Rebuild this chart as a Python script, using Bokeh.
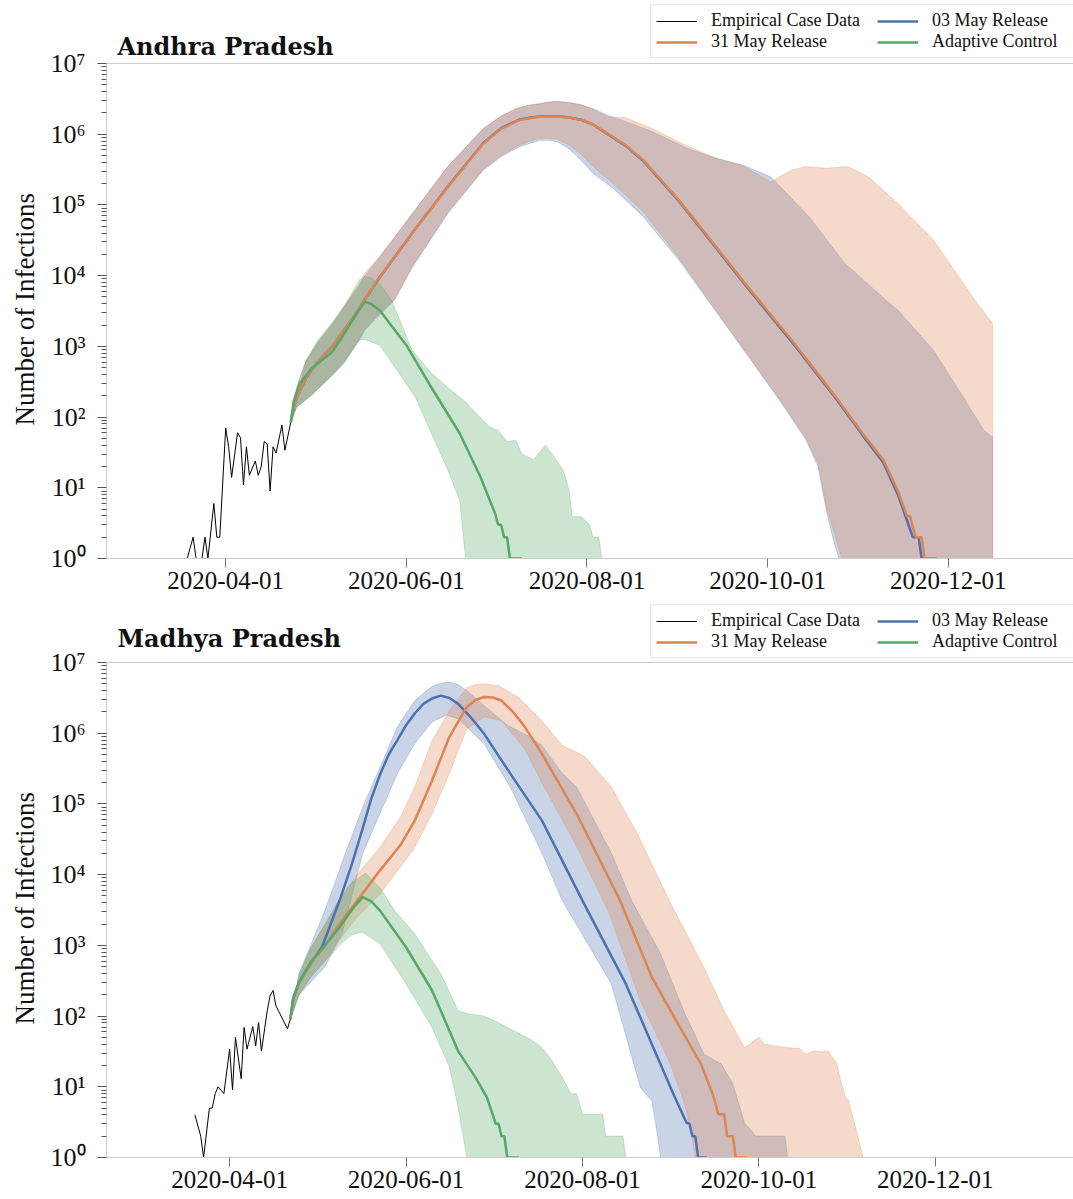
import pandas as pd
from bokeh.plotting import figure
from bokeh.models import (Range1d, FixedTicker, DatetimeTickFormatter, CustomJSTickFormatter,
                          Legend, LegendItem, Span, Label, Title)
from bokeh.layouts import column
from bokeh.embed import file_html
from bokeh.resources import INLINE

# ---------------------------------------------------------------- data
x_tick_dates = ["2020-04-01", "2020-06-01", "2020-08-01", "2020-10-01", "2020-12-01"]
y_tick_values = [1, 10, 100, 1000, 10000, 100000, 1000000, 10000000]
legend_labels = ["Empirical Case Data", "31 May Release", "03 May Release", "Adaptive Control"]

# ---- Andhra Pradesh
ap_case_dates = ["2020-03-19", "2020-03-21", "2020-03-22", "2020-03-24", "2020-03-25", "2020-03-26",
                 "2020-03-28", "2020-03-29", "2020-03-30", "2020-04-01", "2020-04-02", "2020-04-03",
                 "2020-04-05", "2020-04-06", "2020-04-07", "2020-04-08", "2020-04-09", "2020-04-11",
                 "2020-04-12", "2020-04-13", "2020-04-14", "2020-04-15", "2020-04-16", "2020-04-17",
                 "2020-04-18", "2020-04-20", "2020-04-21", "2020-04-23"]
ap_case_vals = [1, 2, 1, 1, 2, 1, 6, 2, 2, 70, 38, 14, 60, 51, 11, 38, 15, 24, 15, 20, 45, 42, 9, 38,
                31, 77, 34, 85]

ap_may31_dates = ["2020-04-23", "2020-04-24", "2020-04-25", "2020-04-28", "2020-05-02", "2020-05-07",
                  "2020-05-11", "2020-05-15", "2020-05-18", "2020-05-23", "2020-06-03", "2020-06-15",
                  "2020-06-27", "2020-07-03", "2020-07-09", "2020-07-13", "2020-07-16", "2020-07-19",
                  "2020-07-22", "2020-07-26", "2020-07-30", "2020-08-03", "2020-08-08", "2020-08-14",
                  "2020-08-20", "2020-09-01", "2020-09-12", "2020-09-23", "2020-09-28", "2020-10-10",
                  "2020-10-24", "2020-11-02", "2020-11-09", "2020-11-14", "2020-11-17", "2020-11-18",
                  "2020-11-20", "2020-11-22", "2020-11-23", "2020-11-27"]
ap_may31_vals = [85, 140, 190, 350, 600, 1000, 1700, 2900, 4600, 9600, 40000, 180000, 740000, 1200000,
                 1580000, 1700000, 1760000, 1785000, 1780000, 1720000, 1600000, 1380000, 1020000, 700000,
                 430000, 117000, 31000, 8100, 4500, 1100, 193, 59, 25, 9, 4, 4, 2, 2, 1, 1]

ap_may03_dates = ["2020-04-23", "2020-04-24", "2020-04-25", "2020-04-28", "2020-05-02", "2020-05-07",
                  "2020-05-11", "2020-05-15", "2020-05-18", "2020-05-23", "2020-06-03", "2020-06-15",
                  "2020-06-27", "2020-07-03", "2020-07-09", "2020-07-13", "2020-07-16", "2020-07-19",
                  "2020-07-22", "2020-07-26", "2020-07-30", "2020-08-03", "2020-08-08", "2020-08-14",
                  "2020-08-20", "2020-09-01", "2020-09-12", "2020-09-23", "2020-09-28", "2020-10-10",
                  "2020-10-24", "2020-11-02", "2020-11-09", "2020-11-14", "2020-11-17", "2020-11-19",
                  "2020-11-21", "2020-11-22", "2020-11-27"]
ap_may03_vals = [85, 140, 190, 350, 600, 1000, 1700, 2900, 4600, 9500, 40000, 182000, 750000, 1220000,
                 1600000, 1720000, 1780000, 1800000, 1790000, 1720000, 1600000, 1370000, 1000000, 690000,
                 420000, 114000, 30000, 7800, 4300, 1050, 185, 56, 23, 8, 3.5, 2, 2, 1, 1]

ap_adapt_dates = ["2020-04-23", "2020-04-24", "2020-04-26", "2020-04-30", "2020-05-07", "2020-05-11",
                  "2020-05-16", "2020-05-18", "2020-05-20", "2020-05-23", "2020-06-01", "2020-06-09",
                  "2020-06-19", "2020-06-26", "2020-07-01", "2020-07-02", "2020-07-03", "2020-07-04",
                  "2020-07-05", "2020-07-06", "2020-07-10"]
ap_adapt_vals = [85, 170, 298, 487, 835, 1520, 3250, 4256, 4000, 3250, 1040, 282, 59, 14.3, 4.3, 3, 3,
                 2, 2, 1, 1]

ap_adapt_hi_dates = ["2020-04-23", "2020-04-25", "2020-04-28", "2020-05-02", "2020-05-07", "2020-05-11",
                     "2020-05-16", "2020-05-18", "2020-05-20", "2020-05-23", "2020-05-27", "2020-06-03",
                     "2020-06-09", "2020-06-15", "2020-06-21", "2020-06-29", "2020-07-02", "2020-07-05",
                     "2020-07-08", "2020-07-10", "2020-07-14", "2020-07-16", "2020-07-18", "2020-07-21",
                     "2020-07-24", "2020-07-26", "2020-07-27", "2020-07-30", "2020-08-02", "2020-08-03",
                     "2020-08-05", "2020-08-06", "2020-08-23"]
ap_adapt_hi_vals = [85, 173, 600, 1200, 2200, 3600, 8600, 9800, 9300, 7700, 4500, 883, 436, 262, 164,
                    73, 65, 45, 47, 30, 25, 32, 40, 27, 17.7, 9.2, 3.9, 3.9, 3, 2, 2, 1, 1]
ap_adapt_lo_dates = ["2020-04-23", "2020-04-25", "2020-04-30", "2020-05-07", "2020-05-11", "2020-05-16",
                     "2020-05-18", "2020-05-23", "2020-05-28", "2020-06-04", "2020-06-09", "2020-06-15",
                     "2020-06-19", "2020-06-21", "2020-08-23"]
ap_adapt_lo_vals = [85, 139, 204, 391, 572, 1222, 1250, 1040, 513, 193, 65, 17.7, 6.7, 1, 1]

ap_may03_hi_dates = ["2020-04-23", "2020-04-25", "2020-04-28", "2020-05-02", "2020-05-07", "2020-05-11",
                     "2020-05-16", "2020-05-18", "2020-05-23", "2020-06-03", "2020-06-15", "2020-06-27",
                     "2020-07-03", "2020-07-08", "2020-07-12", "2020-07-16", "2020-07-19", "2020-07-22",
                     "2020-07-26", "2020-07-30", "2020-08-03", "2020-08-08", "2020-08-22", "2020-09-04",
                     "2020-09-12", "2020-09-23", "2020-10-02", "2020-10-15", "2020-10-27", "2020-11-10",
                     "2020-11-14", "2020-11-26", "2020-12-06", "2020-12-13", "2020-12-16"]
ap_may03_hi_vals = [85, 260, 600, 1100, 2000, 3600, 7000, 10000, 18400, 75000, 350000, 1200000, 1800000,
                    2300000, 2550000, 2700000, 2850000, 2900000, 2800000, 2600000, 2300000, 1860000,
                    1140000, 630000, 480000, 360000, 250000, 68000, 15000, 4500, 3250, 880, 193, 65, 52]
ap_may03_lo_dates = ["2020-04-23", "2020-04-25", "2020-04-30", "2020-05-07", "2020-05-11", "2020-05-16",
                     "2020-05-18", "2020-05-23", "2020-05-28", "2020-06-03", "2020-06-15", "2020-06-27",
                     "2020-07-03", "2020-07-09", "2020-07-16", "2020-07-19", "2020-07-22", "2020-07-26",
                     "2020-07-30", "2020-08-03", "2020-08-10", "2020-08-20", "2020-09-01", "2020-09-10",
                     "2020-09-23", "2020-10-05", "2020-10-14", "2020-10-18", "2020-10-21", "2020-10-23",
                     "2020-10-25", "2020-12-16"]
ap_may03_lo_vals = [85, 139, 204, 391, 600, 1200, 1700, 2800, 4500, 13000, 76000, 310000, 480000, 660000,
                    820000, 820000, 780000, 620000, 430000, 280000, 170000, 68000, 16600, 5000, 880, 173,
                    47, 20, 4.4, 2, 1, 1]

ap_may31_hi_dates = ["2020-04-23", "2020-04-25", "2020-04-28", "2020-05-02", "2020-05-07", "2020-05-11",
                     "2020-05-16", "2020-05-18", "2020-05-23", "2020-06-03", "2020-06-15", "2020-06-27",
                     "2020-07-03", "2020-07-08", "2020-07-12", "2020-07-16", "2020-07-19", "2020-07-22",
                     "2020-07-26", "2020-07-30", "2020-08-03", "2020-08-08", "2020-08-14", "2020-08-23",
                     "2020-09-02", "2020-09-14", "2020-09-23", "2020-10-02", "2020-10-05", "2020-10-09",
                     "2020-10-14", "2020-10-21", "2020-10-28", "2020-11-04", "2020-11-14", "2020-11-26",
                     "2020-12-10", "2020-12-16"]
ap_may31_hi_vals = [85, 270, 620, 1150, 2100, 3800, 7500, 11000, 18400, 75000, 350000, 1200000, 1800000,
                    2300000, 2550000, 2700000, 2850000, 2900000, 2800000, 2600000, 2250000, 1760000,
                    1720000, 1200000, 740000, 450000, 350000, 210000, 250000, 310000, 350000, 330000,
                    350000, 250000, 105000, 32000, 4500, 2100]
ap_may31_lo_dates = ["2020-04-23", "2020-04-25", "2020-04-30", "2020-05-07", "2020-05-11", "2020-05-16",
                     "2020-05-18", "2020-05-23", "2020-05-28", "2020-06-03", "2020-06-15", "2020-06-27",
                     "2020-07-03", "2020-07-09", "2020-07-16", "2020-07-19", "2020-07-22", "2020-07-26",
                     "2020-07-30", "2020-08-03", "2020-08-10", "2020-08-20", "2020-09-01", "2020-09-10",
                     "2020-09-23", "2020-10-05", "2020-10-14", "2020-10-18", "2020-10-21", "2020-10-24",
                     "2020-10-26", "2020-12-16"]
ap_may31_lo_vals = [85, 145, 210, 400, 620, 1250, 1750, 2900, 4600, 13500, 78000, 320000, 500000, 700000,
                    880000, 880000, 850000, 700000, 520000, 350000, 200000, 80000, 18000, 5200, 900, 180,
                    50, 22, 5, 2, 1, 1]

# ---- Madhya Pradesh
mp_case_dates = ["2020-03-20", "2020-03-22", "2020-03-23", "2020-03-25", "2020-03-26", "2020-03-27",
                 "2020-03-28", "2020-03-30", "2020-04-01", "2020-04-02", "2020-04-03", "2020-04-05",
                 "2020-04-06", "2020-04-07", "2020-04-09", "2020-04-10", "2020-04-11", "2020-04-12",
                 "2020-04-14", "2020-04-15", "2020-04-16", "2020-04-17", "2020-04-21", "2020-04-22"]
mp_case_vals = [4, 2, 1, 5, 5, 8, 10, 8, 34, 9, 50, 13, 69, 34, 71, 38, 81, 32, 119, 195, 230, 140, 66, 91]

mp_adapt_dates = ["2020-04-22", "2020-04-23", "2020-04-25", "2020-04-29", "2020-05-04", "2020-05-09",
                  "2020-05-14", "2020-05-17", "2020-05-20", "2020-05-23", "2020-06-01", "2020-06-10",
                  "2020-06-19", "2020-06-25", "2020-06-29", "2020-07-02", "2020-07-03", "2020-07-04",
                  "2020-07-05", "2020-07-06", "2020-07-10"]
mp_adapt_vals = [91, 180, 300, 577, 1000, 1800, 3500, 4800, 4200, 3100, 940, 230, 32, 13.6, 7, 3, 3, 2,
                 2, 1, 1]
mp_adapt_hi_dates = ["2020-04-22", "2020-04-25", "2020-04-29", "2020-05-04", "2020-05-09", "2020-05-13",
                     "2020-05-18", "2020-05-23", "2020-05-28", "2020-06-04", "2020-06-13", "2020-06-19",
                     "2020-06-23", "2020-06-28", "2020-07-03", "2020-07-06", "2020-07-14", "2020-07-18",
                     "2020-07-21", "2020-07-25", "2020-07-28", "2020-07-30", "2020-08-01", "2020-08-08",
                     "2020-08-09", "2020-08-15", "2020-08-16", "2020-08-22"]
mp_adapt_hi_vals = [91, 400, 900, 2000, 4500, 7500, 10500, 6500, 3100, 1460, 396, 119, 107, 100, 81, 69,
                    47, 36, 25, 13.6, 8, 8, 4.1, 4.1, 2, 2, 1, 1]
mp_adapt_lo_dates = ["2020-04-22", "2020-04-25", "2020-04-29", "2020-05-04", "2020-05-09", "2020-05-13",
                     "2020-05-17", "2020-05-23", "2020-06-01", "2020-06-10", "2020-06-16", "2020-06-19",
                     "2020-06-22", "2020-08-22"]
mp_adapt_lo_vals = [91, 200, 353, 600, 1000, 1400, 1535, 1050, 285, 69, 19, 5.1, 1, 1]

mp_may03_dates = ["2020-04-22", "2020-04-23", "2020-04-25", "2020-04-29", "2020-05-03", "2020-05-09",
                  "2020-05-13", "2020-05-17", "2020-05-20", "2020-05-23", "2020-05-26", "2020-05-29",
                  "2020-06-01", "2020-06-04", "2020-06-07", "2020-06-10", "2020-06-13", "2020-06-16",
                  "2020-06-19", "2020-06-23", "2020-06-28", "2020-07-07", "2020-07-18", "2020-08-01",
                  "2020-08-16", "2020-08-25", "2020-09-02", "2020-09-06", "2020-09-07", "2020-09-08",
                  "2020-09-09", "2020-09-10", "2020-09-13"]
mp_may03_vals = [91, 180, 300, 550, 960, 4300, 13000, 45000, 120000, 260000, 500000, 800000, 1300000,
                 1900000, 2600000, 3100000, 3400000, 3150000, 2600000, 1750000, 980000, 270000, 58000,
                 4300, 285, 40, 7, 3.1, 3, 2, 2, 1, 1]
mp_may03_hi_dates = ["2020-04-22", "2020-04-25", "2020-04-29", "2020-05-03", "2020-05-06", "2020-05-11",
                     "2020-05-17", "2020-05-23", "2020-05-29", "2020-06-04", "2020-06-10", "2020-06-13",
                     "2020-06-16", "2020-06-19", "2020-06-22", "2020-06-30", "2020-07-06", "2020-07-14",
                     "2020-07-18", "2020-07-25", "2020-07-30", "2020-08-11", "2020-08-18", "2020-08-28",
                     "2020-09-05", "2020-09-12", "2020-09-18", "2020-09-22", "2020-09-26", "2020-09-30",
                     "2020-10-10", "2020-10-11", "2020-10-20"]
mp_may03_hi_vals = [91, 400, 1000, 2500, 5300, 20000, 90000, 330000, 1230000, 2900000, 4600000, 5100000,
                    5300000, 4900000, 4000000, 2100000, 1300000, 880000, 670000, 270000, 174000, 20000,
                    4300, 760, 119, 29, 21, 11, 3.1, 2, 2, 1, 1]
mp_may03_lo_dates = ["2020-04-22", "2020-04-25", "2020-04-29", "2020-05-04", "2020-05-10", "2020-05-17",
                     "2020-05-23", "2020-05-29", "2020-06-04", "2020-06-10", "2020-06-15", "2020-06-19",
                     "2020-06-28", "2020-07-07", "2020-07-18", "2020-07-25", "2020-08-11", "2020-08-21",
                     "2020-08-25", "2020-08-27", "2020-08-28", "2020-10-20"]
mp_may03_lo_vals = [91, 200, 300, 500, 1500, 20000, 73000, 270000, 710000, 1450000, 1800000, 1600000,
                    710000, 174000, 20000, 4300, 285, 9.8, 6.3, 2, 1, 1]

mp_may31_dates = ["2020-04-22", "2020-04-23", "2020-04-25", "2020-04-29", "2020-05-04", "2020-05-09",
                  "2020-05-16", "2020-05-23", "2020-05-30", "2020-06-04", "2020-06-10", "2020-06-16",
                  "2020-06-22", "2020-06-25", "2020-06-28", "2020-07-01", "2020-07-04", "2020-07-08",
                  "2020-07-12", "2020-07-18", "2020-07-30", "2020-08-14", "2020-08-25", "2020-09-05",
                  "2020-09-11", "2020-09-15", "2020-09-17", "2020-09-19", "2020-09-20", "2020-09-22",
                  "2020-09-23", "2020-09-27"]
mp_may31_vals = [91, 175, 290, 560, 1000, 2000, 4800, 11500, 26000, 58000, 215000, 890000, 2350000,
                 2950000, 3250000, 3200000, 2900000, 2000000, 1240000, 510000, 72000, 4300, 353, 56, 21,
                 7.9, 4.1, 4.1, 2, 2, 1, 1]
mp_may31_hi_dates = ["2020-04-22", "2020-04-25", "2020-04-29", "2020-05-04", "2020-05-09", "2020-05-15",
                     "2020-05-23", "2020-05-30", "2020-06-04", "2020-06-10", "2020-06-16", "2020-06-22",
                     "2020-06-25", "2020-06-28", "2020-07-03", "2020-07-10", "2020-07-18", "2020-07-25",
                     "2020-07-30", "2020-08-02", "2020-08-11", "2020-08-20", "2020-08-31", "2020-09-12",
                     "2020-09-19", "2020-09-26", "2020-10-01", "2020-10-03", "2020-10-10", "2020-10-15",
                     "2020-10-17", "2020-10-20", "2020-10-23", "2020-10-25", "2020-10-28", "2020-10-29",
                     "2020-10-31", "2020-11-01", "2020-11-03", "2020-11-04", "2020-11-06", "2020-11-17"]
mp_may31_hi_vals = [91, 350, 900, 2000, 4500, 10000, 24500, 65000, 174000, 790000, 2100000, 4400000,
                    4850000, 5000000, 4700000, 3200000, 1500000, 670000, 540000, 460000, 174000, 38000,
                    4300, 490, 119, 36, 50, 40, 36, 35, 29, 32, 31, 32, 21, 13.6, 7, 6.5, 3.1, 2.2, 1, 1]
mp_may31_lo_dates = ["2020-04-22", "2020-04-25", "2020-04-29", "2020-05-04", "2020-05-09", "2020-05-15",
                     "2020-05-23", "2020-06-04", "2020-06-10", "2020-06-16", "2020-06-22", "2020-06-28",
                     "2020-07-04", "2020-07-12", "2020-07-18", "2020-07-30", "2020-08-10", "2020-08-21",
                     "2020-08-31", "2020-09-05", "2020-09-07", "2020-09-09", "2020-11-17"]
mp_may31_lo_vals = [91, 200, 350, 600, 1200, 2500, 5300, 24000, 73000, 270000, 1160000, 1700000, 1500000,
                    600000, 200000, 25000, 3000, 166, 23, 6.3, 3, 1, 1]

# ---------------------------------------------------------------- style / layout
BLUE, ORANGE, GREEN = "#4C72B0", "#DD8452", "#55A868"
SERIF = "Liberation Serif"
TEXT = "#111111"
DATA_H = 495     # pixels from 10^0 to 10^7
TOP_PAD = 63     # pixels of frame above 10^7 (title + legend band)
FRAME_H = DATA_H + TOP_PAD
Y_TOP = 10 ** (7 * FRAME_H / DATA_H)


def ms(dates):
    return [pd.Timestamp(d).value / 1e6 for d in dates]


def band(p, hi_d, hi_v, lo_d, lo_v, color):
    xs = ms(hi_d) + ms(lo_d)[::-1]
    ys = list(hi_v) + list(lo_v)[::-1]
    p.patch(xs, ys, fill_color=color, fill_alpha=0.3, line_color=color, line_alpha=0.25, line_width=1)


def make_panel(title, x_start, x_end, bottom, title_rise, legend_rise, d):
    p = figure(width=1073, height=FRAME_H + bottom, title=None,
               x_axis_type="datetime", y_axis_type="log",
               x_range=Range1d(ms([x_start])[0], ms([x_end])[0]), y_range=Range1d(1, Y_TOP),
               min_border_left=105, min_border_right=0, min_border_top=0, min_border_bottom=bottom,
               toolbar_location=None, tools="", output_backend="svg",
               background_fill_color="white", border_fill_color="white")
    p.outline_line_color = None
    p.grid.visible = False

    band(p, d["b_hi_d"], d["b_hi_v"], d["b_lo_d"], d["b_lo_v"], BLUE)
    band(p, d["o_hi_d"], d["o_hi_v"], d["o_lo_d"], d["o_lo_v"], ORANGE)
    band(p, d["g_hi_d"], d["g_hi_v"], d["g_lo_d"], d["g_lo_v"], GREEN)

    r_emp = p.line(ms(d["c_d"]), d["c_v"], line_color="black", line_width=1)
    r_blue = p.line(ms(d["b_d"]), d["b_v"], line_color=BLUE, line_width=2.5)
    r_orange = p.line(ms(d["o_d"]), d["o_v"], line_color=ORANGE, line_width=2.5)
    r_green = p.line(ms(d["g_d"]), d["g_v"], line_color=GREEN, line_width=2.5)

    # top spine at 10^7
    p.add_layout(Span(location=1e7, dimension="width", line_color="#cccccc", line_width=1))

    # panel title
    p.add_layout(Label(x=11, y=DATA_H + title_rise, x_units="screen", y_units="screen", text=title,
                       text_font="DejaVu Serif", text_font_style="bold", text_font_size="24px",
                       text_color=TEXT, text_baseline="alphabetic", text_align="left"))

    # x axis
    xa = p.xaxis[0]
    xa.ticker = FixedTicker(ticks=ms(x_tick_dates))
    xa.formatter = DatetimeTickFormatter(days="%Y-%m-%d", months="%Y-%m-%d", years="%Y-%m-%d")
    xa.axis_line_color = "#cccccc"
    xa.major_tick_line_color = "#777777"
    xa.major_tick_in = 0
    xa.major_tick_out = 9
    xa.minor_tick_line_color = None
    xa.major_label_standoff = 4
    xa.major_label_text_font = SERIF
    xa.major_label_text_font_size = "25px"
    xa.major_label_text_color = TEXT

    # y axis
    ya = p.yaxis[0]
    ya.bounds = (1, 1e7)
    ya.ticker = FixedTicker(ticks=y_tick_values,
                            minor_ticks=[k * 10 ** n for n in range(7) for k in range(2, 10)])
    ya.formatter = CustomJSTickFormatter(code="""
        const sup = ["\u2070", "\u00b9", "\u00b2", "\u00b3", "\u2074", "\u2075", "\u2076", "\u2077", "\u2078", "\u2079"];
        const e = Math.round(Math.log10(tick));
        return "10" + sup[e];
    """)
    ya.axis_line_color = "#cccccc"
    ya.major_tick_line_color = "#555555"
    ya.minor_tick_line_color = "#555555"
    ya.major_tick_in = 0
    ya.minor_tick_in = 0
    ya.major_tick_out = 9
    ya.minor_tick_out = 5
    ya.major_label_standoff = 12
    ya.major_label_text_font = SERIF
    ya.major_label_text_font_size = "26px"
    ya.major_label_text_color = TEXT

    # y axis title, centred on the 10^0..10^7 span (text starts at the bottom)
    p.add_layout(Title(text="Number of Infections", align="left", offset=133,
                       standoff=15, text_font=SERIF, text_font_size="27px",
                       text_font_style="normal", text_color=TEXT), "left")

    common = dict(orientation="vertical", margin=0, padding=5, spacing=0, label_standoff=14,
                  glyph_width=41, glyph_height=20, label_height=20,
                  label_text_font=SERIF, label_text_font_size="18px", label_text_color=TEXT)
    leg_a = Legend(items=[LegendItem(label=legend_labels[0], renderers=[r_emp]),
                          LegendItem(label=legend_labels[1], renderers=[r_orange])],
                   location=(544, DATA_H + legend_rise), label_width=1073 - 649 - 10 - 55,
                   border_line_color="#cccccc", border_line_width=1,
                   background_fill_color="white", background_fill_alpha=1, **common)
    leg_b = Legend(items=[LegendItem(label=legend_labels[2], renderers=[r_blue]),
                          LegendItem(label=legend_labels[3], renderers=[r_green])],
                   location=(881 - 105 - 5, DATA_H + legend_rise + 6), label_width=20,
                   border_line_color=None, background_fill_alpha=0, **common)
    p.add_layout(leg_a)
    p.add_layout(leg_b)
    return p


ap = dict(c_d=ap_case_dates, c_v=ap_case_vals,
          b_d=ap_may03_dates, b_v=ap_may03_vals, o_d=ap_may31_dates, o_v=ap_may31_vals,
          g_d=ap_adapt_dates, g_v=ap_adapt_vals,
          b_hi_d=ap_may03_hi_dates, b_hi_v=ap_may03_hi_vals, b_lo_d=ap_may03_lo_dates, b_lo_v=ap_may03_lo_vals,
          o_hi_d=ap_may31_hi_dates, o_hi_v=ap_may31_hi_vals, o_lo_d=ap_may31_lo_dates, o_lo_v=ap_may31_lo_vals,
          g_hi_d=ap_adapt_hi_dates, g_hi_v=ap_adapt_hi_vals, g_lo_d=ap_adapt_lo_dates, g_lo_v=ap_adapt_lo_vals)
mp = dict(c_d=mp_case_dates, c_v=mp_case_vals,
          b_d=mp_may03_dates, b_v=mp_may03_vals, o_d=mp_may31_dates, o_v=mp_may31_vals,
          g_d=mp_adapt_dates, g_v=mp_adapt_vals,
          b_hi_d=mp_may03_hi_dates, b_hi_v=mp_may03_hi_vals, b_lo_d=mp_may03_lo_dates, b_lo_v=mp_may03_lo_vals,
          o_hi_d=mp_may31_hi_dates, o_hi_v=mp_may31_hi_vals, o_lo_d=mp_may31_lo_dates, o_lo_v=mp_may31_lo_vals,
          g_hi_d=mp_adapt_hi_dates, g_hi_v=mp_adapt_hi_vals, g_lo_d=mp_adapt_lo_dates, g_lo_v=mp_adapt_lo_vals)

p1 = make_panel("Andhra Pradesh", "2020-02-20 18:00", "2021-01-12 07:00", 41, 17, 5, ap)
p2 = make_panel("Madhya Pradesh", "2020-02-18 10:00", "2021-01-17 19:00", 42, 24, 4, mp)

layout = column(p1, p2, spacing=0)
open("out.html", "w").write(file_html(layout, INLINE))
